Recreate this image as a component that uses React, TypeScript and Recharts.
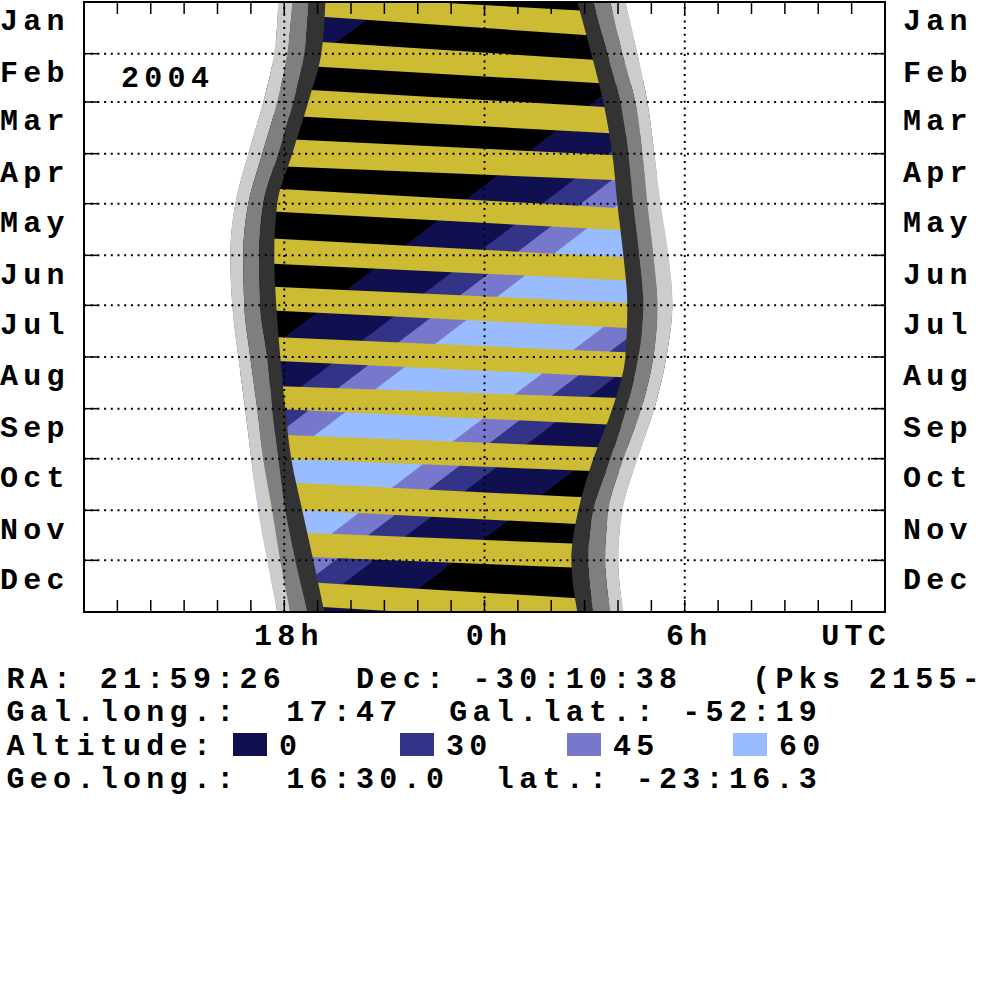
import React from 'react';
import { ComposedChart, Area, Scatter, XAxis, YAxis, ReferenceLine, ReferenceArea } from 'recharts';

const MONTHS = ['Jan', 'Feb', 'Mar', 'Apr', 'May', 'Jun', 'Jul', 'Aug', 'Sep', 'Oct', 'Nov', 'Dec'];
// day of year 2004 on which each month starts (last = Dec 31 end)
const MONTH_START = [0, 31, 60, 91, 121, 152, 182, 213, 244, 274, 305, 335, 366];
// day on which each month label sits
const MONTH_LABEL_DAY = [11, 42, 71, 102, 132, 163, 193, 224, 255, 285, 316, 346];

const HOUR_TICKS = [13, 14, 15, 16, 17, 18, 19, 20, 21, 22, 23, 24, 25, 26, 27, 28, 29, 30, 31, 32, 33, 34, 35];
const HOUR_GRID = [18, 24, 30];
const HOUR_LABELS = [18, 24, 30, 35];
const HOUR_LABEL_TEXT = ['18h', '0h', '6h', 'UTC'];

// twilight edges, UTC hours (past 24 = next morning), read at each month start
const SUNSET = [17.82, 17.7, 17.37, 16.92, 16.53, 16.38, 16.44, 16.62, 16.83, 17.01, 17.22, 17.49, 17.79];
const CIVIL_DUSK = [18.24, 18.09, 17.79, 17.34, 16.92, 16.77, 16.8, 16.98, 17.19, 17.37, 17.64, 17.88, 18.18];
const NAUT_DUSK = [18.72, 18.6, 18.27, 17.82, 17.37, 17.25, 17.28, 17.49, 17.64, 17.82, 18.03, 18.33, 18.69];
const ASTRO_DUSK = [19.23, 19.11, 18.72, 18.24, 17.79, 17.7, 17.76, 17.88, 18.03, 18.21, 18.54, 18.87, 19.2];
const ASTRO_DAWN = [26.78, 27.2, 27.56, 27.83, 27.98, 28.16, 28.28, 28.22, 27.83, 27.26, 26.81, 26.6, 26.78];
const NAUT_DAWN = [27.26, 27.68, 28.07, 28.31, 28.46, 28.64, 28.76, 28.61, 28.25, 27.77, 27.26, 27.11, 27.26];
const CIVIL_DAWN = [27.77, 28.13, 28.52, 28.73, 28.88, 29.06, 29.18, 29.06, 28.7, 28.16, 27.71, 27.62, 27.77];
const SUNRISE = [28.22, 28.58, 28.88, 29.09, 29.27, 29.51, 29.63, 29.45, 29.09, 28.58, 28.13, 28.01, 28.16];

// moonlit bands: day at which the band starts / ends, at the evening and morning side
const MOON_EDGE_HOURS = [17.5, 28.75];
const MOON_TOP_EVE = [-5.4, 21.9, 51.3, 81.8, 111.7, 141.8, 170.7, 200.8, 230.3, 259.3, 287.7, 317.6, 346.6];
const MOON_TOP_MORN = [7.2, 36.6, 64.3, 92.7, 124.5, 153.8, 181.0, 210.6, 238.1, 268.2, 299.0, 326.6, 360.1];
const MOON_BOT_EVE = [6.6, 37.1, 67.6, 98.2, 125.6, 156.9, 185.0, 215.1, 243.9, 273.7, 303.9, 332.0, 361.0];
const MOON_BOT_MORN = [22.2, 50.2, 79.8, 107.6, 137.6, 167.5, 196.1, 225.7, 254.5, 282.6, 315.2, 341.0, 374.5];

// object altitude contours: UTC hour of rising / setting through each level, Jan 1 and Dec 31
const ALT_LEVELS = [0, 30, 45, 60];
const ALT_COLORS = ['#101050', '#333388', '#7777cc', '#99bbff'];
const RISE_JAN1 = [7.22, 9.68, 10.84, 12.0];
const SET_JAN1 = [21.16, 18.7, 17.54, 16.38];
const RISE_DEC31 = [-16.83, -14.37, -13.21, -12.05];
const SET_DEC31 = [-2.89, -5.35, -6.51, -7.67];
const WRAP = [0, 24, 48];

const FONT = '"Liberation Mono", "Courier New", monospace';
const txt: React.CSSProperties = { fontFamily: FONT, fontSize: 30, fontWeight: 700, letterSpacing: '5.3px', whiteSpace: 'pre' };
const txtTight: React.CSSProperties = { ...txt, letterSpacing: 0 };

const YELLOW = '#ccbb33';
const LIGHT = '#cccccc';
const MID = '#7f7f7f';
const DARK = '#333333';

const rows = MONTH_START.map((d, i) => ({
  d,
  ss: SUNSET[i], cd: CIVIL_DUSK[i], nd: NAUT_DUSK[i], ad: ASTRO_DUSK[i],
  aw: ASTRO_DAWN[i], nw: NAUT_DAWN[i], cw: CIVIL_DAWN[i], sr: SUNRISE[i],
}));

const altPolys = ALT_LEVELS.flatMap((a, i) =>
  WRAP.map((w) => ({
    key: `alt-${a}-${w}`,
    color: ALT_COLORS[i],
    pts: [
      { h: RISE_JAN1[i] + w, d: 0 },
      { h: SET_JAN1[i] + w, d: 0 },
      { h: SET_DEC31[i] + w, d: 366 },
      { h: RISE_DEC31[i] + w, d: 366 },
    ],
  }))
);

const moonPolys = MOON_TOP_EVE.map((t, i) => ({
  key: `moon-${i}`,
  pts: [
    { h: MOON_EDGE_HOURS[0], d: t },
    { h: MOON_EDGE_HOURS[1], d: MOON_TOP_MORN[i] },
    { h: MOON_EDGE_HOURS[1], d: MOON_BOT_MORN[i] },
    { h: MOON_EDGE_HOURS[0], d: MOON_BOT_EVE[i] },
  ],
}));

const noDot = () => <g />;
const polygonLine = (color: string) => (lp: any) => (
  <polygon points={(lp.points || []).map((p: any) => `${p.x},${p.y}`).join(' ')} fill={color} stroke="none" />
);

// twilight ranges as [from, to] hour pairs
const bands: { key: string; lo: (r: any) => number; hi: (r: any) => number; color: string; z: number }[] = [
  { key: 'maskL', lo: () => 12, hi: (r) => r.ss, color: '#fff', z: 60 },
  { key: 'maskR', lo: (r) => r.sr, hi: () => 36, color: '#fff', z: 60 },
  { key: 'lightL', lo: (r) => r.ss, hi: (r) => r.cd, color: LIGHT, z: 61 },
  { key: 'lightR', lo: (r) => r.cw, hi: (r) => r.sr, color: LIGHT, z: 61 },
  { key: 'midL', lo: (r) => r.cd, hi: (r) => r.nd, color: MID, z: 62 },
  { key: 'midR', lo: (r) => r.nw, hi: (r) => r.cw, color: MID, z: 62 },
  { key: 'darkL', lo: (r) => r.nd, hi: (r) => r.ad, color: DARK, z: 63 },
  { key: 'darkR', lo: (r) => r.aw, hi: (r) => r.nw, color: DARK, z: 63 },
];

const hourTick = (p: any) => {
  const top = Math.min(p.y1, p.y2);
  const bot = Math.max(p.y1, p.y2);
  return (
    <g stroke="#000" strokeWidth={1.5}>
      <line x1={p.x1} x2={p.x1} y1={top} y2={top + 12} />
      <line x1={p.x1} x2={p.x1} y1={bot - 12} y2={bot} />
    </g>
  );
};

const monthLine = (p: any) => {
  const l = Math.min(p.x1, p.x2);
  const r = Math.max(p.x1, p.x2);
  return (
    <g stroke="#000">
      <line x1={l} x2={r} y1={p.y1} y2={p.y1} strokeWidth={2} strokeDasharray="2 4.7" />
      <line x1={l} x2={l + 14} y1={p.y1} y2={p.y1} strokeWidth={1.5} />
      <line x1={r - 14} x2={r} y1={p.y1} y2={p.y1} strokeWidth={1.5} />
    </g>
  );
};

const MonthLabel = (side: 'left' | 'right') => (p: any) => {
  const i = MONTH_LABEL_DAY.indexOf(p.payload.value);
  return (
    <text x={side === 'left' ? 0 : 903} y={p.y} dy={10} style={txt} fill="#000">
      {MONTHS[i]}
    </text>
  );
};

const HourLabel = (p: any) => {
  const i = HOUR_LABELS.indexOf(p.payload.value);
  return (
    <text x={p.x + 4.6} y={p.y + 33} textAnchor="middle" style={txt} fill="#000">
      {HOUR_LABEL_TEXT[i]}
    </text>
  );
};

const LEGEND_X = [233, 400, 567, 733];

export default function App() {
  return (
    <div style={{ position: 'absolute', left: 0, top: 0, width: 981, height: 983, background: '#fff', overflow: 'hidden' }}>
      <ComposedChart width={981} height={662} layout="vertical" data={rows} margin={{ top: 2, right: 0, bottom: 0, left: 0 }}>
        <XAxis type="number" dataKey="h" domain={[12, 36]} allowDataOverflow ticks={HOUR_LABELS} interval={0}
          tick={HourLabel} tickLine={false} axisLine={false} tickSize={0} tickMargin={0} height={50} />
        <YAxis yAxisId={0} type="number" dataKey="d" domain={[0, 366]} allowDataOverflow ticks={MONTH_LABEL_DAY} interval={0}
          tick={MonthLabel('left')} tickLine={false} axisLine={false} width={84} />
        <YAxis yAxisId="r" orientation="right" type="number" dataKey="d" domain={[0, 366]} allowDataOverflow ticks={MONTH_LABEL_DAY} interval={0}
          tick={MonthLabel('right')} tickLine={false} axisLine={false} width={96} />

        <Area dataKey={(r: any) => [r.ss, r.sr]} type="monotone" fill="#000" fillOpacity={1} stroke="none"
          isAnimationActive={false} dot={false} activeDot={false} zIndex={10} />

        {altPolys.map((p, i) => (
          <Scatter key={p.key} data={p.pts} fill={p.color} shape={noDot} line={polygonLine(p.color)} lineType="joint"
            isAnimationActive={false} zIndex={20 + Math.floor(i / 3)} />
        ))}
        {moonPolys.map((p) => (
          <Scatter key={p.key} data={p.pts} fill={YELLOW} shape={noDot} line={polygonLine(YELLOW)} lineType="joint"
            isAnimationActive={false} zIndex={40} />
        ))}

        {bands.map((b) => (
          <Area key={b.key} dataKey={(r: any) => [b.lo(r), b.hi(r)]} type="monotone" fill={b.color} fillOpacity={1} stroke="none"
            isAnimationActive={false} dot={false} activeDot={false} zIndex={b.z} />
        ))}

        {MONTH_START.slice(1, 12).map((d) => (
          <ReferenceLine key={`m${d}`} y={d} shape={monthLine} zIndex={80} />
        ))}
        {HOUR_GRID.map((h) => (
          <ReferenceLine key={`g${h}`} x={h} stroke="#000" strokeWidth={2} strokeDasharray="2 4.7" zIndex={80} />
        ))}
        {HOUR_TICKS.map((h) => (
          <ReferenceLine key={`t${h}`} x={h} shape={hourTick} zIndex={81} />
        ))}
        <ReferenceArea x1={12} x2={36} y1={0} y2={366} fill="none" fillOpacity={0} stroke="#000" strokeWidth={2}
          ifOverflow="visible" zIndex={82} />
      </ComposedChart>

      <svg width={981} height={983} style={{ position: 'absolute', left: 0, top: 0, pointerEvents: 'none' }}>
        <text x={121} y={87} style={txt}>2004</text>
        <text x={6.5} y={688} style={txt} xmlSpace="preserve">RA: 21:59:26   Dec: -30:10:38   (Pks 2155</text>
        <text x={961.8} y={688} style={txtTight}>-</text>
        <text x={6.5} y={721} style={txt} xmlSpace="preserve">Gal.long.:  17:47  Gal.lat.: -52:19</text>
        <text x={6.5} y={755} style={txt}>Altitude:</text>
        {ALT_LEVELS.map((a, i) => (
          <g key={a}>
            <rect x={LEGEND_X[i]} y={733} width={34} height={23} fill={ALT_COLORS[i]} />
            <text x={LEGEND_X[i] + 46} y={755} style={txt}>{a}</text>
          </g>
        ))}
        <text x={6.5} y={788} style={txt} xmlSpace="preserve">Geo.long.:  16:30.0  lat.: -23:16.3</text>
      </svg>
    </div>
  );
}
